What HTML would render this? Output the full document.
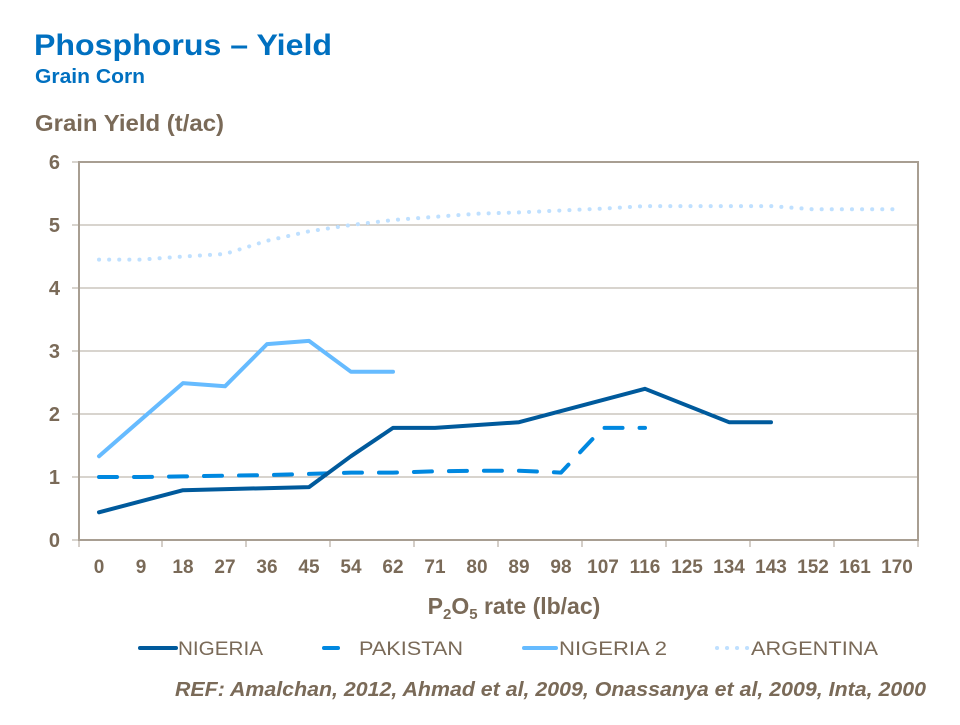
<!DOCTYPE html>
<html><head><meta charset="utf-8"><style>
body{margin:0;background:#fff;}
svg text{font-family:"Liberation Sans",Arial,sans-serif;}
</style></head><body>
<svg width="960" height="720" xmlns="http://www.w3.org/2000/svg">
<text x="34" y="55" font-size="30" font-weight="bold" fill="#0070C0" textLength="298" lengthAdjust="spacingAndGlyphs">Phosphorus  – Yield</text>
<text x="35" y="83" font-size="20" font-weight="bold" fill="#0070C0" textLength="110" lengthAdjust="spacingAndGlyphs">Grain Corn</text>
<text x="35" y="131" font-size="23" font-weight="bold" fill="#7A6A58" textLength="189" lengthAdjust="spacingAndGlyphs">Grain Yield (t/ac)</text>
<g stroke="#B0A89E" stroke-width="1">
<line x1="79" y1="225" x2="918" y2="225"/><line x1="79" y1="288" x2="918" y2="288"/>
<line x1="79" y1="351" x2="918" y2="351"/><line x1="79" y1="414" x2="918" y2="414"/>
<line x1="79" y1="477" x2="918" y2="477"/>
<line x1="72" y1="162" x2="79" y2="162"/><line x1="72" y1="225" x2="79" y2="225"/><line x1="72" y1="288" x2="79" y2="288"/><line x1="72" y1="351" x2="79" y2="351"/><line x1="72" y1="414" x2="79" y2="414"/><line x1="72" y1="477" x2="79" y2="477"/><line x1="72" y1="540" x2="79" y2="540"/>
</g>
<rect x="79" y="162" width="839" height="378" fill="none" stroke="#A89E92" stroke-width="2"/>
<g stroke="#A89E92" stroke-width="1">
<line x1="79" y1="540" x2="79" y2="547"/><line x1="162" y1="540" x2="162" y2="547"/><line x1="246" y1="540" x2="246" y2="547"/><line x1="330" y1="540" x2="330" y2="547"/><line x1="414" y1="540" x2="414" y2="547"/><line x1="498" y1="540" x2="498" y2="547"/><line x1="582" y1="540" x2="582" y2="547"/><line x1="666" y1="540" x2="666" y2="547"/><line x1="750" y1="540" x2="750" y2="547"/><line x1="834" y1="540" x2="834" y2="547"/><line x1="918" y1="540" x2="918" y2="547"/>
</g>
<g font-size="20" font-weight="bold" fill="#7A6A58" text-anchor="end">
<text x="60" y="169">6</text><text x="60" y="232">5</text><text x="60" y="295">4</text><text x="60" y="358">3</text><text x="60" y="421">2</text><text x="60" y="484">1</text><text x="60" y="547">0</text>
</g>
<g font-size="19" font-weight="bold" fill="#7A6A58" text-anchor="middle">
<text x="99" y="573">0</text><text x="141" y="573">9</text><text x="183" y="573">18</text><text x="225" y="573">27</text><text x="267" y="573">36</text><text x="309" y="573">45</text><text x="351" y="573">54</text><text x="393" y="573">62</text><text x="435" y="573">71</text><text x="477" y="573">80</text><text x="519" y="573">89</text><text x="561" y="573">98</text><text x="603" y="573">107</text><text x="645" y="573">116</text><text x="687" y="573">125</text><text x="729" y="573">134</text><text x="771" y="573">143</text><text x="813" y="573">152</text><text x="855" y="573">161</text><text x="897" y="573">170</text>
</g>
<text x="514" y="614" font-size="23" font-weight="bold" fill="#7A6A58" text-anchor="middle">P<tspan font-size="15" dy="5">2</tspan><tspan dy="-5">O</tspan><tspan font-size="15" dy="5">5</tspan><tspan dy="-5"> rate (lb/ac)</tspan></text>
<g fill="none" stroke-linecap="round" stroke-linejoin="round">
<polyline stroke="#BFE0FF" stroke-width="4" stroke-dasharray="0.1 10" points="99,259.6 141,259.6 183,256.5 225,254 267,240.8 309,231.3 351,225 393,220 435,216.8 477,213.7 519,212.4 561,210.5 603,208.6 645,206.1 687,206.1 729,206.1 771,206.1 813,209.3 855,209.3 897,209.3"/>
<polyline stroke="#66BBFF" stroke-width="4" points="99,456.2 183,383.1 225,386.3 267,344.1 309,340.9 351,371.8 393,371.8"/>
<polyline stroke="#0088E0" stroke-width="4" stroke-dasharray="18 17" stroke-linecap="round" points="99,477 141,477 183,476.4 225,475.7 267,475.1 309,473.9 351,472.6 393,472.6 435,471.3 477,470.7 519,470.7 561,472.6 603,427.9 645,427.9"/>
<polyline stroke="#005A9C" stroke-width="4" points="99,512.3 183,490.2 309,487.1 351,456.2 393,427.9 435,427.9 519,422.2 645,388.8 729,422.2 771,422.2"/>
</g>
<g stroke-width="4" stroke-linecap="round">
<line x1="140" y1="648" x2="176" y2="648" stroke="#005A9C"/>
<line x1="324" y1="648" x2="338" y2="648" stroke="#0088E0"/>
<line x1="524" y1="648" x2="556" y2="648" stroke="#66BBFF"/>
<line x1="717" y1="648" x2="717.1" y2="648" stroke="#BFE0FF"/><line x1="727" y1="648" x2="727.1" y2="648" stroke="#BFE0FF"/><line x1="737" y1="648" x2="737.1" y2="648" stroke="#BFE0FF"/><line x1="747" y1="648" x2="747.1" y2="648" stroke="#BFE0FF"/>
</g>
<g font-size="19" fill="#7A6A58">
<text x="178" y="655" textLength="85" lengthAdjust="spacingAndGlyphs">NIGERIA</text>
<text x="359" y="655" textLength="104" lengthAdjust="spacingAndGlyphs">PAKISTAN</text>
<text x="559" y="655" textLength="108" lengthAdjust="spacingAndGlyphs">NIGERIA 2</text>
<text x="751" y="655" textLength="127" lengthAdjust="spacingAndGlyphs">ARGENTINA</text>
</g>
<text x="175" y="696" font-size="20" font-weight="bold" font-style="italic" fill="#7A6A58" textLength="751" lengthAdjust="spacingAndGlyphs">REF: Amalchan, 2012, Ahmad et al, 2009, Onassanya et al, 2009, Inta, 2000</text>
</svg>
</body></html>
